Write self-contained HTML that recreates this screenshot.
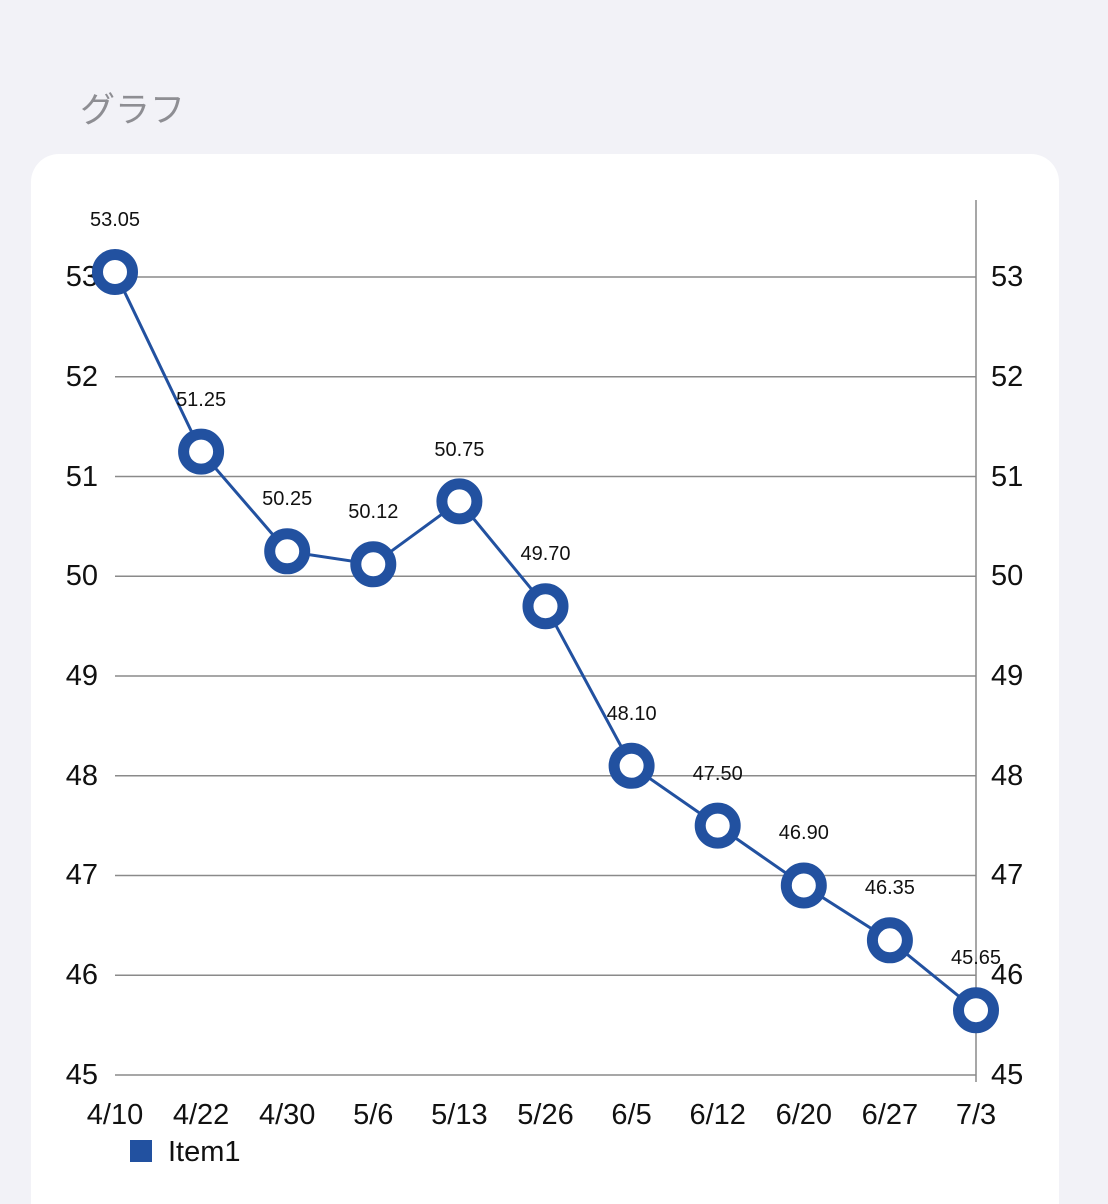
<!DOCTYPE html>
<html><head><meta charset="utf-8"><style>
body{margin:0;width:1108px;height:1204px;background:#f2f2f7;overflow:hidden;font-family:"Liberation Sans","Noto Sans CJK JP",sans-serif}
</style></head><body>
<svg width="1108" height="1204" xmlns="http://www.w3.org/2000/svg" style="position:absolute;left:0;top:0">
<text x="80" y="122" font-size="35" fill="#8e8e93" font-family="Liberation Sans, Noto Sans CJK JP, sans-serif">グラフ</text>
<rect x="31" y="154" width="1028" height="1100" rx="28" fill="#fff"/>
<g stroke="#8a8a8a" stroke-width="1.5">
<line x1="115" y1="277" x2="976" y2="277"/>
<line x1="115" y1="376.75" x2="976" y2="376.75"/>
<line x1="115" y1="476.5" x2="976" y2="476.5"/>
<line x1="115" y1="576.25" x2="976" y2="576.25"/>
<line x1="115" y1="676" x2="976" y2="676"/>
<line x1="115" y1="775.75" x2="976" y2="775.75"/>
<line x1="115" y1="875.5" x2="976" y2="875.5"/>
<line x1="115" y1="975.25" x2="976" y2="975.25"/>
<line x1="115" y1="1075" x2="976" y2="1075"/>
<line x1="976" y1="200" x2="976" y2="1082"/>
</g>
<g font-size="29" fill="#111" text-anchor="end">
<text x="98" y="286">53</text><text x="98" y="386">52</text><text x="98" y="486">51</text><text x="98" y="585">50</text><text x="98" y="685">49</text><text x="98" y="785">48</text><text x="98" y="884">47</text><text x="98" y="984">46</text><text x="98" y="1084">45</text>
</g>
<g font-size="29" fill="#111">
<text x="991" y="286">53</text><text x="991" y="386">52</text><text x="991" y="486">51</text><text x="991" y="585">50</text><text x="991" y="685">49</text><text x="991" y="785">48</text><text x="991" y="884">47</text><text x="991" y="984">46</text><text x="991" y="1084">45</text>
</g>
<g font-size="29" fill="#111" text-anchor="middle">
<text x="115" y="1124">4/10</text><text x="201.1" y="1124">4/22</text><text x="287.2" y="1124">4/30</text><text x="373.3" y="1124">5/6</text><text x="459.4" y="1124">5/13</text><text x="545.5" y="1124">5/26</text><text x="631.6" y="1124">6/5</text><text x="717.7" y="1124">6/12</text><text x="803.8" y="1124">6/20</text><text x="889.9" y="1124">6/27</text><text x="976" y="1124">7/3</text>
</g>
<rect x="130" y="1140" width="22" height="22" fill="#2251a0"/>
<text x="168" y="1161" font-size="29" fill="#111">Item1</text>
<polyline fill="none" stroke="#2251a0" stroke-width="3" points="115,272 201.1,451.6 287.2,551.3 373.3,564.3 459.4,501.4 545.5,606.2 631.6,765.8 717.7,825.6 803.8,885.5 889.9,940.3 976,1010.2"/>
<g fill="#fff" stroke="#2251a0" stroke-width="11">
<circle cx="115" cy="272" r="17.5"/><circle cx="201.1" cy="451.6" r="17.5"/><circle cx="287.2" cy="551.3" r="17.5"/><circle cx="373.3" cy="564.3" r="17.5"/><circle cx="459.4" cy="501.4" r="17.5"/><circle cx="545.5" cy="606.2" r="17.5"/><circle cx="631.6" cy="765.8" r="17.5"/><circle cx="717.7" cy="825.6" r="17.5"/><circle cx="803.8" cy="885.5" r="17.5"/><circle cx="889.9" cy="940.3" r="17.5"/><circle cx="976" cy="1010.2" r="17.5"/>
</g>
<g font-size="20" fill="#111" text-anchor="middle">
<text x="115" y="226">53.05</text><text x="201.1" y="406">51.25</text><text x="287.2" y="505">50.25</text><text x="373.3" y="518">50.12</text><text x="459.4" y="456">50.75</text><text x="545.5" y="560">49.70</text><text x="631.6" y="720">48.10</text><text x="717.7" y="780">47.50</text><text x="803.8" y="839">46.90</text><text x="889.9" y="894">46.35</text><text x="976" y="964">45.65</text>
</g>
</svg>
</body></html>
